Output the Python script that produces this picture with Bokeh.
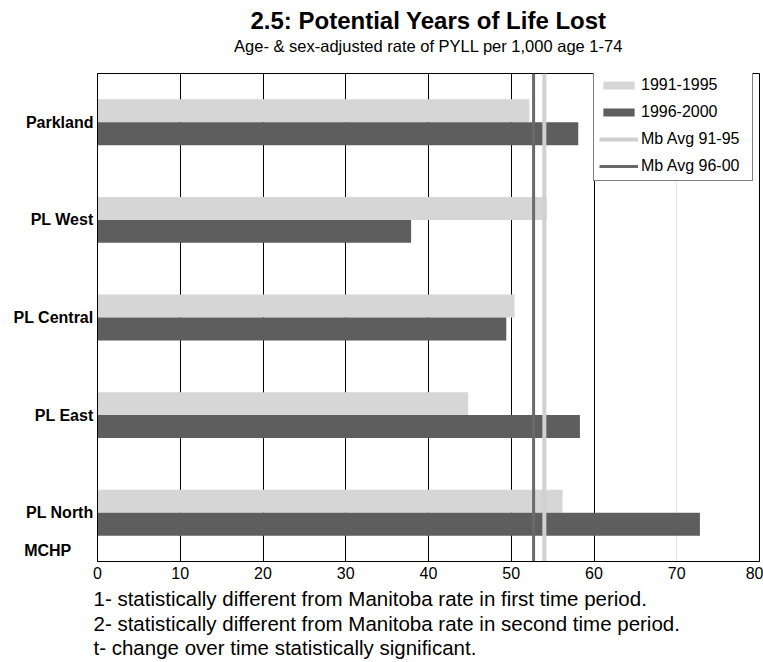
import numpy as np
from bokeh.plotting import figure
from bokeh.models import Range1d, Title, Grid, FixedTicker, Legend, LegendItem, ColumnDataSource
from bokeh.embed import file_html
from bokeh.resources import INLINE

# ---- data ----
areas = ["Parkland", "PL West", "PL Central", "PL East", "PL North"]
rate_91_95 = [52.2, 54.3, 50.4, 44.8, 56.2]
rate_96_00 = [58.1, 37.9, 49.4, 58.3, 72.8]
mb_avg_91_95 = [54.0]
mb_avg_96_00 = [52.7]
x_ticks = [0, 10, 20, 30, 40, 50, 60, 70, 80]
dark_grid_ticks = [10, 20, 30, 40, 50, 60]
light_grid_ticks = [70]
source_label = "MCHP"

title_text = "2.5: Potential Years of Life Lost"
subtitle_text = "Age- & sex-adjusted rate of PYLL per 1,000 age 1-74"
footnotes = [
    "1- statistically different from Manitoba rate in first time period.",
    "2- statistically different from Manitoba rate in second time period.",
    "t- change over time statistically significant.",
]

FONT = "Liberation Sans"
LIGHT = "#d6d6d6"
DARK = "#5e5e5e"

n = len(areas)
bar_h = 0.235
ypos = (n - 1 - np.arange(n)) + 0.5          # category centres, first area on top
src = ColumnDataSource(dict(area=areas, r1=rate_91_95, r2=rate_96_00,
                            y1=ypos + bar_h / 2, y2=ypos - bar_h / 2))

p = figure(width=763, height=662,
           y_range=Range1d(0, n), x_range=Range1d(0, 80),
           output_backend="svg", toolbar_location=None,
           min_border_left=97, min_border_right=4,
           min_border_top=73, min_border_bottom=99)
p.title.text = ""
p.title.visible = False

r1 = p.hbar(y="y1", right="r1", left=0, height=bar_h, source=src,
            fill_color=LIGHT, line_color=None)
r2 = p.hbar(y="y2", right="r2", left=0, height=bar_h, source=src,
            fill_color=DARK, line_color=None)

l1 = p.segment(x0=mb_avg_91_95, x1=mb_avg_91_95, y0=[0], y1=[n], line_color="#d0d0d0", line_width=4)
l2 = p.segment(x0=mb_avg_96_00, x1=mb_avg_96_00, y0=[0], y1=[n], line_color="#6a6a6a", line_width=3)

# grids
p.xgrid.visible = False
p.ygrid.visible = False
g1 = Grid(dimension=0, ticker=FixedTicker(ticks=dark_grid_ticks), grid_line_color="#000000", grid_line_width=1)
g2 = Grid(dimension=0, ticker=FixedTicker(ticks=light_grid_ticks), grid_line_color="#e6e6e6", grid_line_width=1)
g1.level = "underlay"
g2.level = "underlay"
p.add_layout(g1)
p.add_layout(g2)

p.outline_line_color = "#000000"
p.outline_line_width = 1

# x axis
p.xaxis.ticker = FixedTicker(ticks=x_ticks)
p.xaxis.major_tick_out = 0
p.xaxis.major_tick_in = 0
p.xaxis.minor_tick_line_color = None
p.xaxis.axis_line_color = "#000000"
p.xaxis.major_label_text_font = FONT
p.xaxis.major_label_text_font_size = "16px"
p.xaxis.major_label_text_color = "#000000"
p.xaxis.major_label_standoff = 5

# y axis: category labels plus the source tag near the bottom
mchp_y = 0.112
yticks = [float(v) for v in ypos] + [mchp_y]
overrides = {float(v): a for v, a in zip(ypos, areas)}
overrides[mchp_y] = source_label + "\u00a0" * 5
p.yaxis.ticker = FixedTicker(ticks=yticks)
p.yaxis.major_label_overrides = overrides
p.yaxis.major_tick_out = 0
p.yaxis.major_tick_in = 0
p.yaxis.minor_tick_line_color = None
p.yaxis.axis_line_color = "#000000"
p.yaxis.major_label_text_font = FONT
p.yaxis.major_label_text_font_size = "16px"
p.yaxis.major_label_text_font_style = "bold"
p.yaxis.major_label_text_color = "#000000"
p.yaxis.major_label_standoff = 4

# legend
legend = Legend(items=[
    LegendItem(label="1991-1995", renderers=[r1]),
    LegendItem(label="1996-2000", renderers=[r2]),
    LegendItem(label="Mb Avg 91-95", renderers=[l1]),
    LegendItem(label="Mb Avg 96-00", renderers=[l2]),
], location=(496, 380))
legend.margin = 0
legend.padding = 5
legend.spacing = 9
legend.label_height = 16
legend.label_width = 106
legend.glyph_height = 10
legend.glyph_width = 39
legend.label_standoff = 3
legend.label_text_font = FONT
legend.label_text_font_size = "16px"
legend.label_text_color = "#000000"
legend.border_line_color = "#000000"
legend.border_line_width = 1
legend.background_fill_color = "#ffffff"
legend.background_fill_alpha = 1
p.add_layout(legend)

# titles above (innermost first): blank spacer, subtitle, title
p.add_layout(Title(text="\u00a0", text_font=FONT, text_font_size="16px", standoff=0), "above")
p.add_layout(Title(text=subtitle_text, align="center", text_font=FONT, text_font_size="16.5px",
                   text_font_style="normal", text_color="#000000", standoff=0), "above")
p.add_layout(Title(text=title_text, align="center", text_font=FONT, text_font_size="24px",
                   text_font_style="bold", text_color="#000000", standoff=2), "above")

# footnotes below the x axis
for t, s in zip(footnotes, [6.9, -8.5, 6.9]):
    p.add_layout(Title(text=t, align="left", offset=-4, text_font=FONT, text_font_size="20.5px",
                       text_font_style="normal", text_color="#000000", standoff=s), "below")

open("out.html", "w").write(file_html(p, INLINE))
